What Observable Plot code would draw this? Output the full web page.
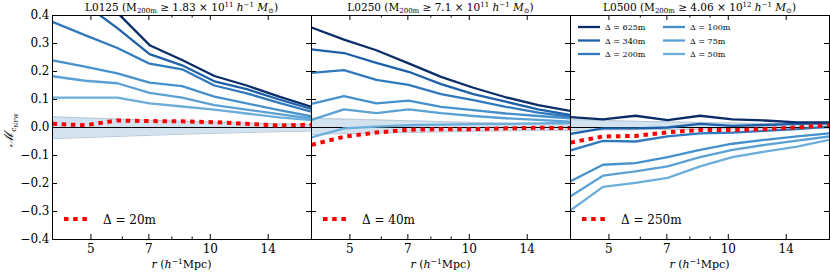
<!DOCTYPE html>
<html><head><meta charset="utf-8">
<script src="https://cdn.jsdelivr.net/npm/d3@7"></script>
<script src="https://cdn.jsdelivr.net/npm/@observablehq/plot@0.6"></script>
<style>
body{margin:0;background:#fff;}
#chart{position:relative;width:830px;height:277px;background:#fff;}
#chart svg{position:absolute;left:0;top:0;}
</style></head><body><div id="chart"></div>
<script>
// ---- data ----
const r = [4.0, 4.83, 5.83, 7.03, 8.49, 10.24, 12.36, 14.92, 18.0];
const deltas = ["625m", "340m", "200m", "100m", "75m", "50m"];
const panelNames = ["L0125", "L0250", "L0500"];
const massCoef = ["1.83", "7.1", "4.06"];
const massExp = ["11", "11", "12"];
const refDelta = ["20m", "40m", "250m"];
const yTicks = [-0.4, -0.3, -0.2, -0.1, 0.0, 0.1, 0.2, 0.3, 0.4];
const xTicks = [5, 7, 10, 14];
const xMinorTicks = [6, 8, 9];

const p1_625 = [0.60, 0.50, 0.41, 0.294, 0.241, 0.184, 0.150, 0.110, 0.074];
const p1_340 = [0.52, 0.44, 0.355, 0.262, 0.222, 0.165, 0.137, 0.100, 0.066];
const p1_200 = [0.377, 0.33, 0.284, 0.228, 0.208, 0.150, 0.122, 0.088, 0.056];
const p1_100 = [0.240, 0.217, 0.193, 0.160, 0.148, 0.110, 0.086, 0.062, 0.040];
const p1_75  = [0.183, 0.167, 0.158, 0.124, 0.107, 0.080, 0.064, 0.048, 0.032];
const p1_50  = [0.107, 0.107, 0.107, 0.086, 0.075, 0.064, 0.050, 0.036, 0.026];
const p1_ref = [0.013, 0.008, 0.025, 0.023, 0.022, 0.019, 0.013, 0.007, 0.010];
const p1_hi  = [0.038, 0.034, 0.030, 0.026, 0.022, 0.019, 0.016, 0.013, 0.011];
const p1_lo  = [-0.040, -0.036, -0.032, -0.028, -0.024, -0.021, -0.018, -0.015, -0.013];

const p2_625 = [0.357, 0.314, 0.276, 0.229, 0.181, 0.142, 0.108, 0.080, 0.059];
const p2_340 = [0.279, 0.266, 0.231, 0.199, 0.155, 0.119, 0.092, 0.065, 0.045];
const p2_200 = [0.195, 0.205, 0.170, 0.152, 0.119, 0.098, 0.074, 0.053, 0.039];
const p2_100 = [0.084, 0.112, 0.086, 0.096, 0.074, 0.062, 0.050, 0.041, 0.033];
const p2_75  = [0.027, 0.065, 0.051, 0.065, 0.051, 0.041, 0.033, 0.027, 0.021];
const p2_50  = [-0.035, -0.003, 0.003, 0.008, 0.010, 0.012, 0.013, 0.015, 0.016];
const p2_ref = [-0.062, -0.033, -0.018, -0.008, -0.006, -0.006, -0.003, -0.001, -0.002];
const p2_hi  = [0.033, 0.030, 0.027, 0.024, 0.021, 0.018, 0.015, 0.013, 0.011];
const p2_lo  = [-0.025, -0.022, -0.020, -0.018, -0.016, -0.014, -0.012, -0.011, -0.010];

const p3_625 = [0.037, 0.029, 0.042, 0.026, 0.042, 0.029, 0.025, 0.018, 0.018];
const p3_340 = [-0.023, -0.003, -0.003, 0.000, 0.013, 0.006, 0.009, 0.013, 0.015];
const p3_200 = [-0.082, -0.048, -0.050, -0.032, -0.021, -0.018, -0.012, -0.006, 0.003];
const p3_100 = [-0.192, -0.133, -0.127, -0.106, -0.080, -0.058, -0.044, -0.032, -0.021];
const p3_75  = [-0.246, -0.172, -0.157, -0.139, -0.106, -0.080, -0.062, -0.047, -0.032];
const p3_50  = [-0.296, -0.212, -0.198, -0.180, -0.139, -0.106, -0.086, -0.068, -0.044];
const p3_ref = [-0.054, -0.032, -0.030, -0.017, -0.009, -0.009, -0.006, 0.000, 0.009];
const p3_hi  = [0.028, 0.025, 0.022, 0.020, 0.018, 0.016, 0.014, 0.012, 0.011];
const p3_lo  = [-0.010, -0.009, -0.008, -0.007, -0.006, -0.005, -0.005, -0.004, -0.004];

const panelSeries = [
  [p1_625, p1_340, p1_200, p1_100, p1_75, p1_50],
  [p2_625, p2_340, p2_200, p2_100, p2_75, p2_50],
  [p3_625, p3_340, p3_200, p3_100, p3_75, p3_50]
];
const panelRef = [p1_ref, p2_ref, p3_ref];
const panelHi = [p1_hi, p2_hi, p3_hi];
const panelLo = [p1_lo, p2_lo, p3_lo];

// ---- styles / layout ----
const colors = ["#0a2d69", "#1f61a8", "#3079bd", "#4690cb", "#5ba1d4", "#6cadd9"];
const W = 830, H = 277, MT = 15, MB = 38;
const frames = [[52, 311], [311, 570], [570, 829]];
const FONT = "DejaVu Serif";
const chart = document.getElementById("chart");

for (let p = 0; p < 3; p++) {
  const [x0, x1] = frames[p];
  const fw = x1 - x0, fh = H - MT - MB;
  const lineData = [];
  panelSeries[p].forEach((vals, k) => vals.forEach((v, i) => lineData.push({r: r[i], v, delta: deltas[k]})));
  const refData = panelRef[p].map((v, i) => ({r: r[i], v}));
  const bandData = r.map((x, i) => ({r: x, hi: panelHi[p][i], lo: panelLo[p][i]}));
  const marks = [
    Plot.areaY(bandData, {x: "r", y1: "lo", y2: "hi", fill: "#d2e2ef", clip: true}),
    Plot.line(bandData, {x: "r", y: "hi", stroke: "#b7c8d8", strokeWidth: 1, clip: true}),
    Plot.line(bandData, {x: "r", y: "lo", stroke: "#b7c8d8", strokeWidth: 1, clip: true}),
    Plot.ruleY([0], {stroke: "black", strokeWidth: 1}),
    Plot.line(lineData.slice().reverse(), {x: "r", y: "v", z: "delta", stroke: "delta", strokeWidth: 2.3, clip: true}),
    Plot.line(refData, {x: "r", y: "v", stroke: "#ff0000", strokeWidth: 4, strokeDasharray: "4.5,4.7", strokeLinecap: "butt", clip: true}),
    Plot.frame({stroke: "black", strokeWidth: 1}),
    Plot.tickY(yTicks, {y: d => d, stroke: "black", insetRight: fw - 5}),
    Plot.tickY(yTicks, {y: d => d, stroke: "black", insetLeft: fw - 5}),
    Plot.tickX(xTicks, {x: d => d, stroke: "black", insetTop: fh - 5}),
    Plot.tickX(xTicks, {x: d => d, stroke: "black", insetBottom: fh - 5}),
    Plot.tickX(xMinorTicks, {x: d => d, stroke: "black", insetTop: fh - 2.5}),
    Plot.tickX(xMinorTicks, {x: d => d, stroke: "black", insetBottom: fh - 2.5}),
    Plot.axisX({ticks: xTicks, tickSize: 0, tickPadding: 5, tickFormat: d => String(d), fontSize: 12, label: null})
  ];
  if (p === 0) marks.push(Plot.axisY({ticks: yTicks, tickSize: 0, tickPadding: 3, tickFormat: d3.format(".1f"), fontSize: 12, label: null}));
  const svg = Plot.plot({
    width: W, height: H,
    marginLeft: x0, marginRight: W - x1, marginTop: MT, marginBottom: MB,
    style: {background: "transparent", fontFamily: FONT, fontSize: "12px", color: "black"},
    x: {type: "log", domain: [4, 18], label: null},
    y: p === 0 ? {domain: [-0.4, 0.4], label: null} : {domain: [-0.4, 0.4], label: null, axis: null},
    color: {domain: deltas, range: colors},
    marks
  });
  chart.appendChild(svg);
  const s = d3.select(svg);
  const cx = (x0 + x1) / 2;
  // title
  const t = s.append("text").attr("x", cx).attr("y", 11).attr("text-anchor", "middle")
    .attr("font-family", FONT).attr("font-size", 10.5).attr("fill", "black");
  t.append("tspan").text(panelNames[p] + " (M");
  t.append("tspan").attr("font-size", 7).attr("dy", 2).text("200m");
  t.append("tspan").attr("dy", -2).text(" ≥ " + massCoef[p] + " × 10");
  t.append("tspan").attr("font-size", 7).attr("dy", -4).text(massExp[p]);
  t.append("tspan").attr("dy", 4).attr("font-style", "italic").text(" h");
  t.append("tspan").attr("font-size", 7).attr("dy", -4).text("−1");
  t.append("tspan").attr("dy", 4).attr("font-style", "italic").text(" M");
  t.append("tspan").attr("font-size", 7).attr("dy", 2).text("⊙");
  t.append("tspan").attr("dy", -2).text(")");
  // x label
  const xl = s.append("text").attr("x", cx).attr("y", 268).attr("text-anchor", "middle")
    .attr("font-family", FONT).attr("font-size", 11).attr("fill", "black");
  xl.append("tspan").attr("font-style", "italic").text("r");
  xl.append("tspan").text(" (");
  xl.append("tspan").attr("font-style", "italic").text("h");
  xl.append("tspan").attr("font-size", 7.5).attr("dy", -4).text("−1");
  xl.append("tspan").attr("dy", 4).text("Mpc)");
  // reference legend
  const lx = x0 + 12, ly = 219;
  s.append("line").attr("x1", lx).attr("x2", lx + 24).attr("y1", ly).attr("y2", ly)
    .attr("stroke", "#ff0000").attr("stroke-width", 4).attr("stroke-dasharray", "4.5,4.7");
  s.append("text").attr("x", lx + 39).attr("y", ly + 4.5).attr("text-anchor", "start").attr("font-family", FONT).attr("font-size", 12)
    .attr("fill", "black").text("Δ = " + refDelta[p]);
  if (p === 0) {
    const yl = s.append("text").attr("transform", "translate(13,130) rotate(-90)").attr("text-anchor", "middle")
      .attr("font-family", FONT).attr("font-size", 13).attr("fill", "black");
    yl.append("tspan").attr("font-style", "italic").text("ℳ");
    yl.append("tspan").attr("font-size", 7.5).attr("dy", 3).text("c");
    yl.append("tspan").attr("font-size", 5.5).attr("dy", 1.5).text("NFW");
  }
  if (p === 2) {
    deltas.forEach((d, k) => {
      const col = Math.floor(k / 3), row = k % 3;
      const gx = x0 + 8 + col * 85, gy = 27 + row * 13.5;
      s.append("line").attr("x1", gx).attr("x2", gx + 22).attr("y1", gy).attr("y2", gy)
        .attr("stroke", colors[k]).attr("stroke-width", 2.3);
      s.append("text").attr("x", gx + 27).attr("y", gy + 3).attr("text-anchor", "start").attr("font-family", FONT).attr("font-size", 8)
        .attr("fill", "black").text("Δ = " + d);
    });
  }
}
</script></body></html>
